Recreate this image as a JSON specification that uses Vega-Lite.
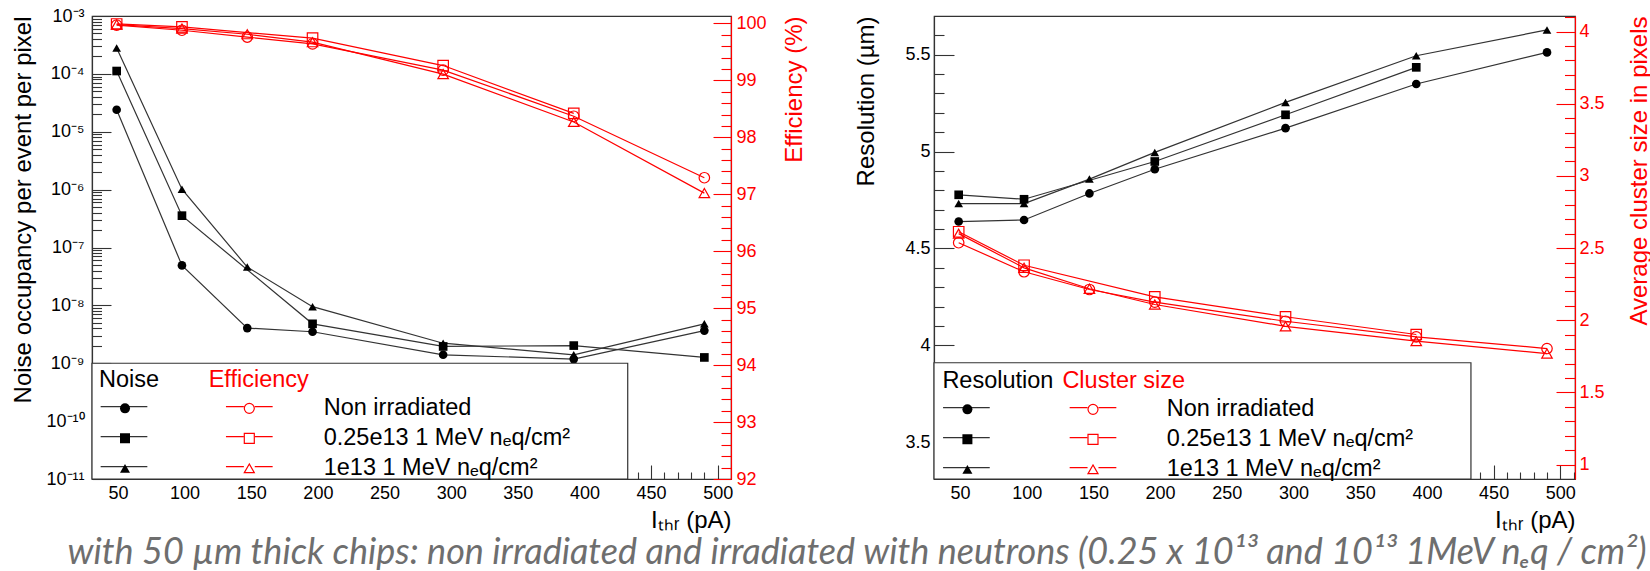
{
  "$schema": "https://vega.github.io/schema/vega-lite/v6.json",
  "background": "white",
  "autosize": {"type": "pad"},
  "padding": {"left": 10, "top": 6, "right": 0, "bottom": 4},
  "bounds": "flush",
  "spacing": 203,
  "resolve": {"scale": {"shape": "independent", "stroke": "independent"}, "legend": {"shape": "independent", "stroke": "independent"}},
  "title": {"text": "with 50 µm thick chips: non irradiated and irradiated with neutrons (0.25 x 10¹³ and  10¹³ 1MeV nₑq / cm²)", "orient": "bottom", "anchor": "middle", "font": "Lato", "fontStyle": "italic", "fontWeight": "normal", "fontSize": 36, "color": "#6e6e6e", "offset": 3, "dx": 26},
  "config": {
    "font": "Liberation Sans",
    "view": {"stroke": "#333", "strokeWidth": 1.2},
    "axis": {"grid": false, "tickCount": 1000, "labelFont": "Liberation Sans", "titleFont": "Liberation Sans", "labelFontSize": 18, "titleFontSize": 24, "titleFontWeight": "normal", "labelColor": "#000", "titleColor": "#000", "domainColor": "#333", "domainWidth": 1.2, "tickColor": "#333", "tickWidth": 1.1, "labelOverlap": false, "labelFlush": false, "labelBound": false},
    "legend": {"orient": "none", "padding": 0, "titleFont": "Liberation Sans", "labelFont": "Liberation Sans", "titleFontSize": 23.5, "labelFontSize": 23.5, "titleFontWeight": "normal", "titleColor": "#000", "labelColor": "#000", "labelLimit": 600, "titleLimit": 600, "rowPadding": 5, "titlePadding": 5.6, "symbolSize": 100, "symbolStrokeWidth": 1.2, "clipHeight": 23.5}
  },
  "datasets": {
    "noise": [
      {"I": 49, "series": "Non irradiated", "v": 2.4e-5},
      {"I": 98, "series": "Non irradiated", "v": 4.9e-8},
      {"I": 147, "series": "Non irradiated", "v": 4.05e-9},
      {"I": 196, "series": "Non irradiated", "v": 3.5e-9},
      {"I": 294, "series": "Non irradiated", "v": 1.4e-9},
      {"I": 392, "series": "Non irradiated", "v": 1.18e-9},
      {"I": 490, "series": "Non irradiated", "v": 3.67e-9},
      {"I": 49, "series": "0.25e13 1 MeV nₑq/cm²", "v": 1.12e-4},
      {"I": 98, "series": "0.25e13 1 MeV nₑq/cm²", "v": 3.55e-7},
      {"I": 196, "series": "0.25e13 1 MeV nₑq/cm²", "v": 4.8e-9},
      {"I": 294, "series": "0.25e13 1 MeV nₑq/cm²", "v": 1.95e-9},
      {"I": 392, "series": "0.25e13 1 MeV nₑq/cm²", "v": 2.02e-9},
      {"I": 490, "series": "0.25e13 1 MeV nₑq/cm²", "v": 1.26e-9},
      {"I": 49, "series": "1e13 1 MeV nₑq/cm²", "v": 2.8e-4},
      {"I": 98, "series": "1e13 1 MeV nₑq/cm²", "v": 1.02e-6},
      {"I": 147, "series": "1e13 1 MeV nₑq/cm²", "v": 4.6e-8},
      {"I": 196, "series": "1e13 1 MeV nₑq/cm²", "v": 9.5e-9},
      {"I": 294, "series": "1e13 1 MeV nₑq/cm²", "v": 2.22e-9},
      {"I": 392, "series": "1e13 1 MeV nₑq/cm²", "v": 1.4e-9},
      {"I": 490, "series": "1e13 1 MeV nₑq/cm²", "v": 4.8e-9}
    ],
    "eff": [
      {"I": 49, "series": "Non irradiated", "v": 99.97},
      {"I": 98, "series": "Non irradiated", "v": 99.88},
      {"I": 147, "series": "Non irradiated", "v": 99.76},
      {"I": 196, "series": "Non irradiated", "v": 99.64},
      {"I": 294, "series": "Non irradiated", "v": 99.18},
      {"I": 392, "series": "Non irradiated", "v": 98.37},
      {"I": 490, "series": "Non irradiated", "v": 97.29},
      {"I": 49, "series": "0.25e13 1 MeV nₑq/cm²", "v": 99.99},
      {"I": 98, "series": "0.25e13 1 MeV nₑq/cm²", "v": 99.94},
      {"I": 196, "series": "0.25e13 1 MeV nₑq/cm²", "v": 99.74},
      {"I": 294, "series": "0.25e13 1 MeV nₑq/cm²", "v": 99.26},
      {"I": 392, "series": "0.25e13 1 MeV nₑq/cm²", "v": 98.42},
      {"I": 49, "series": "1e13 1 MeV nₑq/cm²", "v": 99.98},
      {"I": 98, "series": "1e13 1 MeV nₑq/cm²", "v": 99.91},
      {"I": 147, "series": "1e13 1 MeV nₑq/cm²", "v": 99.81},
      {"I": 196, "series": "1e13 1 MeV nₑq/cm²", "v": 99.67},
      {"I": 294, "series": "1e13 1 MeV nₑq/cm²", "v": 99.11},
      {"I": 392, "series": "1e13 1 MeV nₑq/cm²", "v": 98.27},
      {"I": 490, "series": "1e13 1 MeV nₑq/cm²", "v": 97.02}
    ],
    "res": [
      {"I": 49, "series": "Non irradiated", "v": 4.639},
      {"I": 98, "series": "Non irradiated", "v": 4.647},
      {"I": 147, "series": "Non irradiated", "v": 4.784},
      {"I": 196, "series": "Non irradiated", "v": 4.909},
      {"I": 294, "series": "Non irradiated", "v": 5.121},
      {"I": 392, "series": "Non irradiated", "v": 5.349},
      {"I": 490, "series": "Non irradiated", "v": 5.512},
      {"I": 49, "series": "0.25e13 1 MeV nₑq/cm²", "v": 4.777},
      {"I": 98, "series": "0.25e13 1 MeV nₑq/cm²", "v": 4.754},
      {"I": 196, "series": "0.25e13 1 MeV nₑq/cm²", "v": 4.949},
      {"I": 294, "series": "0.25e13 1 MeV nₑq/cm²", "v": 5.19},
      {"I": 392, "series": "0.25e13 1 MeV nₑq/cm²", "v": 5.435},
      {"I": 49, "series": "1e13 1 MeV nₑq/cm²", "v": 4.732},
      {"I": 98, "series": "1e13 1 MeV nₑq/cm²", "v": 4.732},
      {"I": 147, "series": "1e13 1 MeV nₑq/cm²", "v": 4.858},
      {"I": 196, "series": "1e13 1 MeV nₑq/cm²", "v": 4.996},
      {"I": 294, "series": "1e13 1 MeV nₑq/cm²", "v": 5.254},
      {"I": 392, "series": "1e13 1 MeV nₑq/cm²", "v": 5.495},
      {"I": 490, "series": "1e13 1 MeV nₑq/cm²", "v": 5.628}
    ],
    "clu": [
      {"I": 49, "series": "Non irradiated", "v": 2.537},
      {"I": 98, "series": "Non irradiated", "v": 2.336},
      {"I": 147, "series": "Non irradiated", "v": 2.213},
      {"I": 196, "series": "Non irradiated", "v": 2.125},
      {"I": 294, "series": "Non irradiated", "v": 1.993},
      {"I": 392, "series": "Non irradiated", "v": 1.885},
      {"I": 490, "series": "Non irradiated", "v": 1.804},
      {"I": 49, "series": "0.25e13 1 MeV nₑq/cm²", "v": 2.613},
      {"I": 98, "series": "0.25e13 1 MeV nₑq/cm²", "v": 2.381},
      {"I": 196, "series": "0.25e13 1 MeV nₑq/cm²", "v": 2.162},
      {"I": 294, "series": "0.25e13 1 MeV nₑq/cm²", "v": 2.024},
      {"I": 392, "series": "0.25e13 1 MeV nₑq/cm²", "v": 1.901},
      {"I": 49, "series": "1e13 1 MeV nₑq/cm²", "v": 2.6},
      {"I": 98, "series": "1e13 1 MeV nₑq/cm²", "v": 2.363},
      {"I": 147, "series": "1e13 1 MeV nₑq/cm²", "v": 2.218},
      {"I": 196, "series": "1e13 1 MeV nₑq/cm²", "v": 2.109},
      {"I": 294, "series": "1e13 1 MeV nₑq/cm²", "v": 1.958},
      {"I": 392, "series": "1e13 1 MeV nₑq/cm²", "v": 1.855},
      {"I": 490, "series": "1e13 1 MeV nₑq/cm²", "v": 1.769}
    ]
  },
  "hconcat": [
    {
      "width": 639,
      "height": 463,
      "resolve": {"scale": {"y": "independent", "shape": "independent", "stroke": "independent"}},
      "layer": [
        {
          "layer": [
            {
              "data": {"name": "noise"},
              "mark": {"type": "line", "strokeWidth": 1.2},
              "encoding": {
                "x": {"field": "I", "type": "quantitative", "title": "Iₜₕᵣ (pA)", "scale": {"domain": [30.5, 510], "nice": false, "zero": false},
                  "axis": {"values": [40,50,60,70,80,90,100,110,120,130,140,150,160,170,180,190,200,210,220,230,240,250,260,270,280,290,300,310,320,330,340,350,360,370,380,390,400,410,420,430,440,450,460,470,480,490,500],
                    "tickCount": 1000,
                    "tickSize": {"condition": {"test": "datum.value % 50 === 0", "value": -14}, "value": -7},
                    "labelExpr": "datum.value % 50 === 0 ? format(datum.value, 'd') : ''",
                    "labelOverlap": false,
                    "labelPadding": 19, "titleX": 639, "titleY": 48, "titleAlign": "right", "titleBaseline": "alphabetic", "titleAngle": 0}},
                "y": {"field": "v", "type": "quantitative", "title": "Noise occupancy per event per pixel", "scale": {"type": "log", "domain": [1e-11, 1e-3], "nice": false},
                  "axis": {"orient": "left",
                    "values": [1e-11,2e-11,3e-11,4e-11,5e-11,6e-11,7e-11,8e-11,9e-11,1e-10,2e-10,3e-10,4e-10,5e-10,6e-10,7e-10,8e-10,9e-10,1e-9,2e-9,3e-9,4e-9,5e-9,6e-9,7e-9,8e-9,9e-9,1e-8,2e-8,3e-8,4e-8,5e-8,6e-8,7e-8,8e-8,9e-8,1e-7,2e-7,3e-7,4e-7,5e-7,6e-7,7e-7,8e-7,9e-7,1e-6,2e-6,3e-6,4e-6,5e-6,6e-6,7e-6,8e-6,9e-6,1e-5,2e-5,3e-5,4e-5,5e-5,6e-5,7e-5,8e-5,9e-5,1e-4,2e-4,3e-4,4e-4,5e-4,6e-4,7e-4,8e-4,9e-4,1e-3],
                    "tickCount": 1000,
                    "tickSize": {"condition": {"test": "abs(log(datum.value)/LN10 - round(log(datum.value)/LN10)) < 0.001", "value": -19}, "value": -9.5},
                    "labelExpr": "abs(log(datum.value)/LN10 - round(log(datum.value)/LN10)) < 0.001 ? '10' + ['','','','⁻³','⁻⁴','⁻⁵','⁻⁶','⁻⁷','⁻⁸','⁻⁹','⁻¹⁰','⁻¹¹'][-round(log(datum.value)/LN10)] : ''",
                    "labelOverlap": false,
                    "labelPadding": 27, "titleX": -69, "titleY": 0, "titleAngle": 270, "titleAlign": "right", "titleBaseline": "middle"}},
                "stroke": {"field": "series", "type": "nominal", "scale": {"range": ["#333", "#333", "#333"]},
                  "legend": {"title": null, "orient": "none", "legendX": 7, "legendY": 378.8, "symbolType": "stroke", "symbolSize": 2180, "symbolOffset": 1, "labelExpr": "''", "symbolStrokeWidth": 1.2, "symbolStrokeColor": "#333"}}
              }
            },
            {
              "data": {"name": "noise"},
              "mark": {"type": "point", "filled": true, "color": "#000", "size": 75, "opacity": 1},
              "encoding": {
                "x": {"field": "I", "type": "quantitative", "title": "Iₜₕᵣ (pA)"},
                "y": {"field": "v", "type": "quantitative", "title": "Noise occupancy per event per pixel"},
                "shape": {"field": "series", "type": "nominal",
                  "scale": {"domain": ["Non irradiated", "0.25e13 1 MeV nₑq/cm²", "1e13 1 MeV nₑq/cm²"], "range": ["circle", "square", "triangle-up"]},
                  "legend": {"title": "Noise", "orient": "none", "legendX": 7, "legendY": 351.5, "symbolOffset": 14.25, "labelExpr": "''"}}
              }
            },
            {
              "data": {"values": [{}]},
              "mark": {"type": "rect", "fill": "#fff", "stroke": "#333", "strokeWidth": 1.2},
              "encoding": {"x": {"datum": 30.5}, "x2": {"datum": 432.5}, "y": {"datum": 1e-11}, "y2": {"datum": 1e-9}}
            }
          ]
        },
        {
          "layer": [
            {
              "data": {"name": "eff"},
              "mark": {"type": "line", "strokeWidth": 1.2},
              "encoding": {
                "x": {"field": "I", "type": "quantitative", "title": "Iₜₕᵣ (pA)"},
                "y": {"field": "v", "type": "quantitative", "title": "Efficiency (%)", "scale": {"domain": [92, 100.13], "nice": false, "zero": false},
                  "axis": {"orient": "right",
                    "values": [92,92.2,92.4,92.6,92.8,93,93.2,93.4,93.6,93.8,94,94.2,94.4,94.6,94.8,95,95.2,95.4,95.6,95.8,96,96.2,96.4,96.6,96.8,97,97.2,97.4,97.6,97.8,98,98.2,98.4,98.6,98.8,99,99.2,99.4,99.6,99.8,100],
                    "tickCount": 1000,
                    "tickSize": {"condition": {"test": "abs(datum.value - round(datum.value)) < 0.01", "value": -18}, "value": -10},
                    "labelExpr": "abs(datum.value - round(datum.value)) < 0.01 ? format(datum.value, 'd') : ''",
                    "labelOverlap": false,
                    "labelPadding": 23, "titleX": 63, "titleY": 0, "titleAngle": 270, "titleAlign": "right", "titleBaseline": "middle",
                    "labelColor": "#f00", "titleColor": "#f00", "domainColor": "#f00", "tickColor": "#f00"}},
                "stroke": {"field": "series", "type": "nominal", "scale": {"range": ["#f00", "#f00", "#f00"]},
                  "legend": {"title": null, "orient": "none", "legendX": 116.7, "legendY": 378.8, "symbolType": "stroke", "symbolSize": 2180, "symbolOffset": 16.6, "labelExpr": "''", "symbolStrokeWidth": 1.2, "symbolStrokeColor": "#f00", "symbolDash": [17.9, 10.9]}}
              }
            },
            {
              "data": {"name": "eff"},
              "mark": {"type": "point", "filled": false, "color": "#f00", "size": 110, "strokeWidth": 1.2, "opacity": 1},
              "encoding": {
                "x": {"field": "I", "type": "quantitative", "title": "Iₜₕᵣ (pA)"},
                "y": {"field": "v", "type": "quantitative", "title": "Efficiency (%)"},
                "shape": {"field": "series", "type": "nominal",
                  "scale": {"domain": ["Non irradiated", "0.25e13 1 MeV nₑq/cm²", "1e13 1 MeV nₑq/cm²"], "range": ["circle", "square", "triangle-up"]},
                  "legend": {"title": "Efficiency", "titleColor": "#f00", "orient": "none", "legendX": 116.7, "legendY": 351.5, "symbolOffset": 28.85, "labelOffset": 62.65}}
              }
            }
          ]
        }
      ]
    },
    {
      "width": 641,
      "height": 463,
      "resolve": {"scale": {"y": "independent", "shape": "independent", "stroke": "independent"}},
      "layer": [
        {
          "layer": [
            {
              "data": {"name": "res"},
              "mark": {"type": "line", "strokeWidth": 1.2},
              "encoding": {
                "x": {"field": "I", "type": "quantitative", "title": "Iₜₕᵣ (pA)", "scale": {"domain": [30.5, 511], "nice": false, "zero": false},
                  "axis": {"values": [40,50,60,70,80,90,100,110,120,130,140,150,160,170,180,190,200,210,220,230,240,250,260,270,280,290,300,310,320,330,340,350,360,370,380,390,400,410,420,430,440,450,460,470,480,490,500,510],
                    "tickCount": 1000,
                    "tickSize": {"condition": {"test": "datum.value % 50 === 0", "value": -14}, "value": -7},
                    "labelExpr": "datum.value % 50 === 0 ? format(datum.value, 'd') : ''",
                    "labelOverlap": false,
                    "labelPadding": 19, "titleX": 641, "titleY": 48, "titleAlign": "right", "titleBaseline": "alphabetic", "titleAngle": 0}},
                "y": {"field": "v", "type": "quantitative", "title": "Resolution (µm)", "scale": {"domain": [3.31, 5.7], "nice": false, "zero": false},
                  "axis": {"orient": "left",
                    "values": [3.4,3.5,3.6,3.7,3.8,3.9,4,4.1,4.2,4.3,4.4,4.5,4.6,4.7,4.8,4.9,5,5.1,5.2,5.3,5.4,5.5,5.6],
                    "tickCount": 1000,
                    "tickSize": {"condition": {"test": "abs(datum.value*2 - round(datum.value*2)) < 0.01", "value": -20}, "value": -10},
                    "labelExpr": "abs(datum.value*2 - round(datum.value*2)) < 0.01 ? format(datum.value, '~g') : ''",
                    "labelOverlap": false,
                    "labelPadding": 24, "titleX": -68, "titleY": 0, "titleAngle": 270, "titleAlign": "right", "titleBaseline": "middle"}},
                "stroke": {"field": "series", "type": "nominal", "scale": {"range": ["#333", "#333", "#333"]},
                  "legend": {"title": null, "orient": "none", "legendX": 8.4, "legendY": 379.8, "symbolType": "stroke", "symbolSize": 2180, "symbolOffset": 0, "labelExpr": "''", "symbolStrokeWidth": 1.2, "symbolStrokeColor": "#333"}}
              }
            },
            {
              "data": {"name": "res"},
              "mark": {"type": "point", "filled": true, "color": "#000", "size": 75, "opacity": 1},
              "encoding": {
                "x": {"field": "I", "type": "quantitative", "title": "Iₜₕᵣ (pA)"},
                "y": {"field": "v", "type": "quantitative", "title": "Resolution (µm)"},
                "shape": {"field": "series", "type": "nominal",
                  "scale": {"domain": ["Non irradiated", "0.25e13 1 MeV nₑq/cm²", "1e13 1 MeV nₑq/cm²"], "range": ["circle", "square", "triangle-up"]},
                  "legend": {"title": "Resolution", "orient": "none", "legendX": 8.4, "legendY": 352.5, "symbolOffset": 13.25, "labelExpr": "''"}}
              }
            },
            {
              "data": {"values": [{}]},
              "mark": {"type": "rect", "fill": "#fff", "stroke": "#333", "strokeWidth": 1.2},
              "encoding": {"x": {"datum": 30.5}, "x2": {"datum": 433}, "y": {"datum": 3.31}, "y2": {"datum": 3.91}}
            }
          ]
        },
        {
          "layer": [
            {
              "data": {"name": "clu"},
              "mark": {"type": "line", "strokeWidth": 1.2},
              "encoding": {
                "x": {"field": "I", "type": "quantitative", "title": "Iₜₕᵣ (pA)"},
                "y": {"field": "v", "type": "quantitative", "title": "Average cluster size in pixels", "scale": {"domain": [0.9, 4.108], "nice": false, "zero": false},
                  "axis": {"orient": "right",
                    "values": [1,1.1,1.2,1.3,1.4,1.5,1.6,1.7,1.8,1.9,2,2.1,2.2,2.3,2.4,2.5,2.6,2.7,2.8,2.9,3,3.1,3.2,3.3,3.4,3.5,3.6,3.7,3.8,3.9,4,4.1],
                    "tickCount": 1000,
                    "tickSize": {"condition": {"test": "abs(datum.value*2 - round(datum.value*2)) < 0.01", "value": -19}, "value": -10.5},
                    "labelExpr": "abs(datum.value*2 - round(datum.value*2)) < 0.01 ? format(datum.value, '~g') : ''",
                    "labelOverlap": false,
                    "labelPadding": 23, "titleX": 64, "titleY": 0, "titleAngle": 270, "titleAlign": "right", "titleBaseline": "middle",
                    "labelColor": "#f00", "titleColor": "#f00", "domainColor": "#f00", "tickColor": "#f00"}},
                "stroke": {"field": "series", "type": "nominal", "scale": {"range": ["#f00", "#f00", "#f00"]},
                  "legend": {"title": null, "orient": "none", "legendX": 128.4, "legendY": 379.8, "symbolType": "stroke", "symbolSize": 2180, "symbolOffset": 6.6, "labelExpr": "''", "symbolStrokeWidth": 1.2, "symbolStrokeColor": "#f00", "symbolDash": [17.9, 10.9]}}
              }
            },
            {
              "data": {"name": "clu"},
              "mark": {"type": "point", "filled": false, "color": "#f00", "size": 110, "strokeWidth": 1.2, "opacity": 1},
              "encoding": {
                "x": {"field": "I", "type": "quantitative", "title": "Iₜₕᵣ (pA)"},
                "y": {"field": "v", "type": "quantitative", "title": "Average cluster size in pixels"},
                "shape": {"field": "series", "type": "nominal",
                  "scale": {"domain": ["Non irradiated", "0.25e13 1 MeV nₑq/cm²", "1e13 1 MeV nₑq/cm²"], "range": ["circle", "square", "triangle-up"]},
                  "legend": {"title": "Cluster size", "titleColor": "#f00", "orient": "none", "legendX": 128.4, "legendY": 352.5, "symbolOffset": 18.85, "labelOffset": 61.95}}
              }
            }
          ]
        }
      ]
    }
  ]
}
